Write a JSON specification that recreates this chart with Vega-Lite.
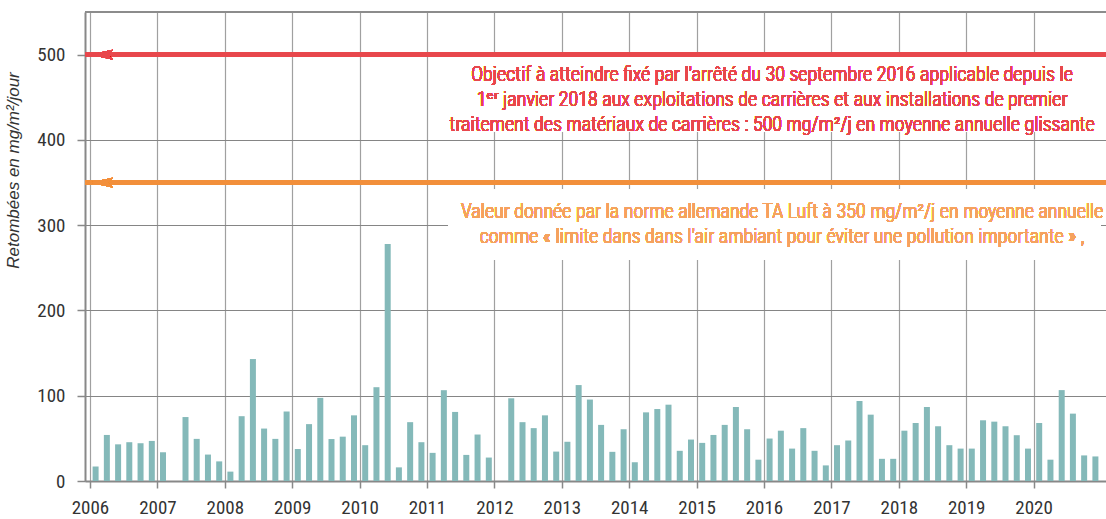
{
  "$schema": "https://vega.github.io/schema/vega-lite/v6.json",
  "width": 1021,
  "height": 469,
  "autosize": {"type": "none"},
  "padding": {"left": 85, "top": 12, "right": 0, "bottom": 38},
  "background": "white",
  "config": {"view": {"stroke": null}, "font": "Roboto Condensed, DejaVu Sans Condensed, Roboto, sans-serif"},
  "data": {"values": [
    {"t": 2006.083, "v": 17}, {"t": 2006.25, "v": 54}, {"t": 2006.417, "v": 43}, {"t": 2006.583, "v": 45.5}, {"t": 2006.75, "v": 44.3}, {"t": 2006.917, "v": 47},
    {"t": 2007.083, "v": 33.7}, {"t": 2007.417, "v": 75}, {"t": 2007.583, "v": 49.4}, {"t": 2007.75, "v": 31}, {"t": 2007.917, "v": 23},
    {"t": 2008.083, "v": 11}, {"t": 2008.25, "v": 76}, {"t": 2008.417, "v": 143}, {"t": 2008.583, "v": 61.5}, {"t": 2008.75, "v": 49.4}, {"t": 2008.917, "v": 81.5},
    {"t": 2009.083, "v": 37.5}, {"t": 2009.25, "v": 66.7}, {"t": 2009.417, "v": 97.5}, {"t": 2009.583, "v": 49.2}, {"t": 2009.75, "v": 52}, {"t": 2009.917, "v": 77},
    {"t": 2010.083, "v": 42}, {"t": 2010.25, "v": 110}, {"t": 2010.417, "v": 278}, {"t": 2010.583, "v": 16}, {"t": 2010.75, "v": 69}, {"t": 2010.917, "v": 45.5},
    {"t": 2011.083, "v": 33}, {"t": 2011.25, "v": 106.5}, {"t": 2011.417, "v": 81}, {"t": 2011.583, "v": 30.6}, {"t": 2011.75, "v": 54.5}, {"t": 2011.917, "v": 27.5},
    {"t": 2012.25, "v": 97}, {"t": 2012.417, "v": 69}, {"t": 2012.583, "v": 62}, {"t": 2012.75, "v": 77}, {"t": 2012.917, "v": 34.5},
    {"t": 2013.083, "v": 46}, {"t": 2013.25, "v": 112.5}, {"t": 2013.417, "v": 95.5}, {"t": 2013.583, "v": 65.8}, {"t": 2013.75, "v": 34.2}, {"t": 2013.917, "v": 60.7},
    {"t": 2014.083, "v": 22}, {"t": 2014.25, "v": 80.5}, {"t": 2014.417, "v": 84.4}, {"t": 2014.583, "v": 89.5}, {"t": 2014.75, "v": 35.4}, {"t": 2014.917, "v": 48.6},
    {"t": 2015.083, "v": 44.7}, {"t": 2015.25, "v": 54}, {"t": 2015.417, "v": 65.8}, {"t": 2015.583, "v": 86.8}, {"t": 2015.75, "v": 60.7}, {"t": 2015.917, "v": 25},
    {"t": 2016.083, "v": 49.8}, {"t": 2016.25, "v": 59}, {"t": 2016.417, "v": 38}, {"t": 2016.583, "v": 62}, {"t": 2016.75, "v": 35.4}, {"t": 2016.917, "v": 18.3},
    {"t": 2017.083, "v": 42}, {"t": 2017.25, "v": 47.5}, {"t": 2017.417, "v": 93.8}, {"t": 2017.583, "v": 77.8}, {"t": 2017.75, "v": 26}, {"t": 2017.917, "v": 26},
    {"t": 2018.083, "v": 59}, {"t": 2018.25, "v": 68}, {"t": 2018.417, "v": 86.8}, {"t": 2018.583, "v": 64.2}, {"t": 2018.75, "v": 42}, {"t": 2018.917, "v": 38},
    {"t": 2019.083, "v": 38}, {"t": 2019.25, "v": 71.2}, {"t": 2019.417, "v": 69.6}, {"t": 2019.583, "v": 64.2}, {"t": 2019.75, "v": 53.7}, {"t": 2019.917, "v": 38},
    {"t": 2020.083, "v": 68}, {"t": 2020.25, "v": 25}, {"t": 2020.417, "v": 106.6}, {"t": 2020.583, "v": 79}, {"t": 2020.75, "v": 30}, {"t": 2020.917, "v": 28.8}
  ]},
  "layer": [
    {
      "mark": {"type": "bar", "orient": "vertical", "width": 6, "color": "#84b9b9"},
      "encoding": {
        "x": {"field": "t", "type": "quantitative",
          "scale": {"domain": [2006, 2021], "zero": false, "nice": false},
          "axis": {"values": [2006, 2007, 2008, 2009, 2010, 2011, 2012, 2013, 2014, 2015, 2016, 2017, 2018, 2019, 2020],
            "format": "d", "title": null, "grid": true, "gridColor": "#a0a0a0", "gridWidth": 1.2,
            "domainColor": "#888888", "domainWidth": 2, "tickColor": "#888888", "tickSize": 7, "tickWidth": 1.5,
            "labelFontSize": 19, "labelColor": "#333333", "labelPadding": 10, "labelDx": 5, "labelFlush": false}},
        "y": {"field": "v", "type": "quantitative",
          "scale": {"domain": [0, 550], "nice": false},
          "axis": {"values": [0, 100, 200, 300, 400, 500], "title": "Retombées en mg/m²/jour",
            "titleFont": "Liberation Sans", "titleFontStyle": "italic", "titleFontWeight": "normal", "titleFontSize": 17,
            "titleColor": "#333333", "titleX": -63, "titleY": 158, "titleAngle": -90,
            "grid": true, "gridColor": "#858585", "gridWidth": 1.2,
            "domainColor": "#888888", "domainWidth": 2, "tickColor": "#888888", "tickSize": 8, "tickWidth": 1.5,
            "labelFontSize": 19, "labelColor": "#333333", "labelPadding": 12}}
      }
    },
    {
      "mark": {"type": "rect", "fill": "white", "opacity": 1},
      "encoding": {"x": {"datum": 2011.3}, "x2": {"datum": 2021}, "y": {"datum": 410}, "y2": {"datum": 497}}
    },
    {
      "mark": {"type": "rect", "fill": "white", "opacity": 1},
      "encoding": {"x": {"datum": 2011.32}, "x2": {"datum": 2021}, "y": {"datum": 259.5}, "y2": {"datum": 341.5}}
    },
    {
      "mark": {"type": "rule", "color": "#8c8c8c", "strokeWidth": 2},
      "encoding": {"y": {"datum": 550}}
    },
    {
      "mark": {"type": "rule", "color": "#e8474c", "strokeWidth": 4},
      "encoding": {"y": {"datum": 500}}
    },
    {
      "mark": {"type": "rule", "color": "#f28f3b", "strokeWidth": 4},
      "encoding": {"y": {"datum": 350}}
    },
    {
      "mark": {"type": "point", "shape": "M -1 0 L 1 -0.42 L 0.55 0 L 1 0.42 Z", "size": 529, "filled": true, "opacity": 1, "fill": "#e8474c", "stroke": null},
      "encoding": {"x": {"datum": 2006.169}, "y": {"datum": 500}}
    },
    {
      "mark": {"type": "point", "shape": "M -1 0 L 1 -0.42 L 0.55 0 L 1 0.42 Z", "size": 529, "filled": true, "opacity": 1, "fill": "#f28f3b", "stroke": null},
      "encoding": {"x": {"datum": 2006.169}, "y": {"datum": 350}}
    },
    {
      "mark": {"type": "text", "text": ["Objectif à atteindre fixé  par l'arrêté du 30 septembre 2016 applicable depuis le", "1ᵉʳ janvier 2018 aux exploitations  de carrières et aux installations  de premier", "traitement  des matériaux de carrières : 500 mg/m²/j  en moyenne annuelle glissante"],
        "fontSize": 20, "fontWeight": 300, "fill": "#e8474c", "stroke": null, "lineHeight": 25, "align": "center", "baseline": "middle"},
      "encoding": {"x": {"datum": 2016.12}, "y": {"datum": 476}}
    },
    {
      "mark": {"type": "text", "text": ["Valeur donnée par la norme allemande TA Luft à 350 mg/m²/j en moyenne annuelle", "comme « limite  dans dans l'air ambiant pour éviter une pollution importante » ,"],
        "fontSize": 20, "fontWeight": 300, "fill": "#f5a25e", "stroke": null, "lineHeight": 25, "align": "center", "baseline": "middle"},
      "encoding": {"x": {"datum": 2016.27}, "y": {"datum": 315.5}}
    }
  ]
}
